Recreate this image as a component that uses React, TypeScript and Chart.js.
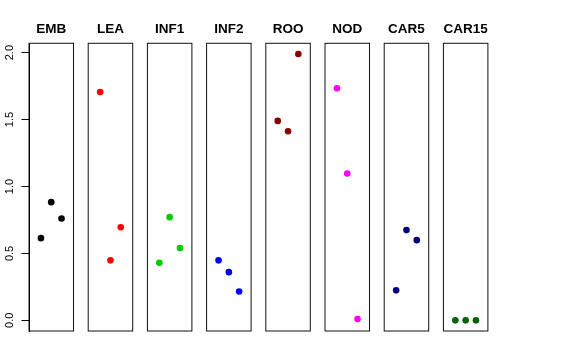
import React, { useEffect, useRef } from 'react';
import { Chart, registerables } from 'chart.js';

Chart.register(...registerables);

// ---- data ----
const panelNames = ['EMB', 'LEA', 'INF1', 'INF2', 'ROO', 'NOD', 'CAR5', 'CAR15'];
const xPositions = [1, 2, 3];
const embValues = [0.614, 0.883, 0.761];
const leaValues = [1.706, 0.448, 0.696];
const inf1Values = [0.43, 0.771, 0.54];
const inf2Values = [0.448, 0.36, 0.216];
const rooValues = [1.49, 1.413, 1.99];
const nodValues = [1.734, 1.097, 0.01];
const car5Values = [0.224, 0.674, 0.599];
const car15Values = [0, 0, 0];
const seriesValues = [embValues, leaValues, inf1Values, inf2Values, rooValues, nodValues, car5Values, car15Values];
const panelColors = ['#000000', '#FF0000', '#00CD00', '#0000FF', '#8B0000', '#FF00FF', '#000080', '#006400'];
const yTickValues = [0, 0.5, 1.0, 1.5, 2.0];

// ---- layout ----
const W = 576;
const H = 360;
const PANEL_LEFT0 = 29;
const PANEL_STEP = 59.2;
const PANEL_W = 44.5;
const PLOT_BOTTOM = 331;
const FONT = "'Liberation Sans', Arial, Helvetica, sans-serif";

const boxPlugin = {
  id: 'panelBox',
  afterDraw(chart: any) {
    const { ctx, chartArea: a } = chart;
    ctx.save();
    ctx.strokeStyle = '#111';
    ctx.lineWidth = 1;
    ctx.strokeRect(a.left, a.top, a.right - a.left, a.bottom - a.top);
    ctx.restore();
  },
};

function Panel({ index }: { index: number }) {
  const ref = useRef<HTMLCanvasElement | null>(null);
  useEffect(() => {
    if (!ref.current) return;
    const left = PANEL_LEFT0 + index * PANEL_STEP;
    const right = left + PANEL_W;
    const showY = index === 0;
    const chart = new Chart(ref.current, {
      type: 'scatter',
      data: {
        datasets: [
          {
            label: panelNames[index],
            data: xPositions.map((x, i) => ({ x, y: seriesValues[index][i] })),
            backgroundColor: panelColors[index],
            borderColor: panelColors[index],
            borderWidth: 0,
            pointRadius: 3.3,
            pointHoverRadius: 3.3,
          },
        ],
      },
      options: {
        responsive: false,
        animation: false,
        events: [],
        layout: {
          padding: {
            left: showY ? 0 : left,
            right: W - right,
            top: 0,
            bottom: H - PLOT_BOTTOM,
          },
        },
        plugins: {
          legend: { display: false },
          tooltip: { enabled: false },
          title: {
            display: true,
            text: panelNames[index],
            fullSize: false,
            color: '#000',
            font: { family: FONT, size: 13.5, weight: 'bold', lineHeight: 1.2 },
            padding: { top: 20.9, bottom: 6.2 },
          },
        },
        scales: {
          x: {
            type: 'linear',
            min: -0.16,
            max: 4.16,
            display: false,
          },
          y: {
            type: 'linear',
            min: -0.0796,
            max: 2.0696,
            display: showY,
            afterFit: (scale: any) => {
              if (showY) scale.width = PANEL_LEFT0;
            },
            afterBuildTicks: (scale: any) => {
              scale.ticks = yTickValues.map((v) => ({ value: v }));
            },
            grid: {
              display: true,
              drawOnChartArea: false,
              drawTicks: true,
              tickLength: 7.5,
              tickColor: '#000',
              tickWidth: 1,
            },
            border: { display: true, color: '#000', width: 1 },
            ticks: {
              minRotation: 90,
              maxRotation: 90,
              crossAlign: 'center',
              padding: 3.5,
              color: '#000',
              font: { family: FONT, size: 11 },
              callback: (v: any) => Number(v).toFixed(1),
            },
          },
        },
      },
      plugins: [boxPlugin],
    });
    return () => chart.destroy();
  }, [index]);
  return (
    <canvas
      ref={ref}
      width={W}
      height={H}
      style={{ position: 'absolute', left: 0, top: 0, width: W, height: H }}
    />
  );
}

export default function App() {
  return (
    <div style={{ position: 'fixed', left: 0, top: 0, width: W, height: H, background: '#fff' }}>
      {panelNames.map((_, i) => (
        <Panel key={i} index={i} />
      ))}
    </div>
  );
}
